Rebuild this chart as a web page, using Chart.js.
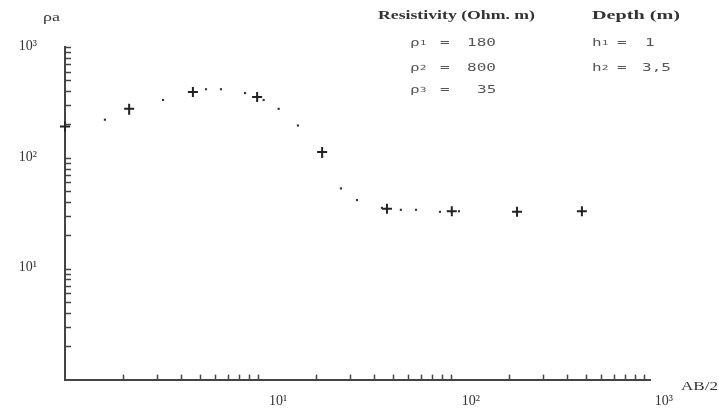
<!DOCTYPE html>
<html>
<head>
<meta charset="utf-8">
<script src="https://cdn.jsdelivr.net/npm/chart.js@4/dist/chart.umd.min.js"></script>
<style>
html,body{margin:0;padding:0;background:#fff;}
#wrap{position:relative;width:719px;height:416px;overflow:hidden;}
#c{position:absolute;left:0;top:0;}
.t{position:absolute;white-space:nowrap;line-height:1;color:#333;transform-origin:0 50%;}
.serif{font-family:'Liberation Serif','Times New Roman',serif;font-size:13px;}
.mono{font-family:'DejaVu Sans Mono','Liberation Mono',monospace;font-size:10px;color:#555;transform:scaleX(1.6);}
.sub{font-size:7px;vertical-align:1px;}
</style>
</head>
<body>
<div id="wrap">
<canvas id="c" width="719" height="416"></canvas>

<div class="t serif" data-w="17" style="left:43px;top:10px;">ρa</div>
<div class="t serif" data-w="157" style="left:378px;top:8px;font-weight:bold;">Resistivity (Ohm. m)</div>
<div class="t serif" data-w="88" style="left:592px;top:8px;font-weight:bold;">Depth (m)</div>
<div class="t serif" data-w="37" style="left:681px;top:379px;">AB/2</div>

<div class="t mono" style="left:410px;top:38px;">ρ<span class="sub">1</span></div>
<div class="t mono" style="left:440px;top:38px;">=</div>
<div class="t mono" style="left:467px;top:38px;">180</div>
<div class="t mono" style="left:410px;top:63px;">ρ<span class="sub">2</span></div>
<div class="t mono" style="left:440px;top:63px;">=</div>
<div class="t mono" style="left:467px;top:63px;">800</div>
<div class="t mono" style="left:410px;top:85px;">ρ<span class="sub">3</span></div>
<div class="t mono" style="left:440px;top:85px;">=</div>
<div class="t mono" style="left:477px;top:85px;">35</div>

<div class="t mono" style="left:592px;top:38px;">h<span class="sub">1</span></div>
<div class="t mono" style="left:617px;top:38px;">=</div>
<div class="t mono" style="left:645px;top:38px;">1</div>
<div class="t mono" style="left:592px;top:63px;">h<span class="sub">2</span></div>
<div class="t mono" style="left:617px;top:63px;">=</div>
<div class="t mono" style="left:642px;top:63px;">3,5</div>
</div>

<script>
// ---- data ----
// measured points drawn as "+" crosses
const crossAB  = [1, 2.15, 4.6, 9.9, 21.5, 46.6, 101, 220, 477];
const crossRho = [192, 277, 392, 354, 113, 34.7, 33, 32.6, 33];
// measured points drawn as small dots
const dotAB  = [1.61, 2.15, 3.22, 5.38, 6.43, 8.57, 10.7, 12.8, 16.1, 21.5, 26.9, 32.6, 43.9, 55, 65.9, 87.7, 110];
const dotRho = [221, 250, 333, 416, 416, 384, 333, 277, 196, 102, 53, 41.6, 35.4, 34, 34, 32.6, 33];
// axis tick labels
const xTickValues = [1, 10, 100, 1000];
const xTickLabels = ['', '10¹', '10²', '10³'];
const yTickValues = [1, 10, 100, 1000];
const yTickLabels = ['', '10¹', '10²', '10³'];
// minor tick marks
const tickDecades = [1, 10, 100];
const tickMultipliers = [2, 3, 4, 5, 6, 7, 8, 9, 10];

const minorTicks = [];
tickDecades.forEach(d => tickMultipliers.forEach(m => minorTicks.push(d * m)));

const toPts = (xs, ys) => xs.map((v, i) => ({x: v, y: ys[i]}));

const inTicks = {
  id: 'inTicks',
  afterDraw(chart) {
    const {ctx, chartArea: a, scales: {x, y}} = chart;
    ctx.save();
    ctx.strokeStyle = '#444';
    ctx.lineWidth = 1.5;
    minorTicks.forEach(v => {
      const px = Math.round(x.getPixelForValue(v)) + 0.5;
      ctx.beginPath(); ctx.moveTo(px, a.bottom); ctx.lineTo(px, a.bottom - 5); ctx.stroke();
      const py = Math.round(y.getPixelForValue(v)) + 0.5;
      ctx.beginPath(); ctx.moveTo(a.left, py); ctx.lineTo(a.left + 6, py); ctx.stroke();
    });
    ctx.restore();
  }
};

const tickFont = {family: "'Liberation Serif','Times New Roman',serif", size: 14};

new Chart(document.getElementById('c'), {
  type: 'scatter',
  data: {
    datasets: [
      {
        data: toPts(dotAB, dotRho),
        pointStyle: 'rect', pointRadius: 1.5, borderWidth: 0,
        backgroundColor: '#333', borderColor: '#333', clip: false
      },
      {
        data: toPts(crossAB, crossRho),
        pointStyle: 'cross', pointRadius: 5, borderWidth: 2,
        borderColor: '#222', backgroundColor: '#222', clip: false
      }
    ]
  },
  options: {
    responsive: false,
    animation: false,
    devicePixelRatio: 1,
    layout: {padding: {left: 0, top: 47, right: 69, bottom: 0}},
    plugins: {legend: {display: false}, tooltip: {enabled: false}},
    scales: {
      x: {
        type: 'logarithmic', min: 1, max: 1075, position: 'bottom',
        grid: {display: false, drawTicks: false},
        border: {display: true, color: '#444', width: 2},
        afterBuildTicks: s => { s.ticks = xTickValues.map(v => ({value: v})); },
        afterFit: s => { s.height = 30; },
        ticks: {
          autoSkip: false, maxRotation: 0, padding: 13, labelOffset: 20,
          font: tickFont, color: '#333',
          callback: v => { const i = xTickValues.indexOf(v); return i >= 0 ? xTickLabels[i] : ''; }
        }
      },
      y: {
        type: 'logarithmic', min: 1, max: 1000,
        grid: {display: false, drawTicks: false},
        border: {display: true, color: '#444', width: 2},
        afterBuildTicks: s => { s.ticks = yTickValues.map(v => ({value: v})); },
        afterFit: s => { s.width = 65; },
        ticks: {
          autoSkip: false, padding: 28, labelOffset: -1,
          font: tickFont, color: '#333',
          callback: v => { const i = yTickValues.indexOf(v); return i >= 0 ? yTickLabels[i] : ''; }
        }
      }
    }
  },
  plugins: [inTicks]
});

document.querySelectorAll('[data-w]').forEach(el => {
  const w = el.getBoundingClientRect().width;
  if (w > 0) el.style.transform = 'scaleX(' + (el.dataset.w / w) + ')';
});
</script>
</body>
</html>
